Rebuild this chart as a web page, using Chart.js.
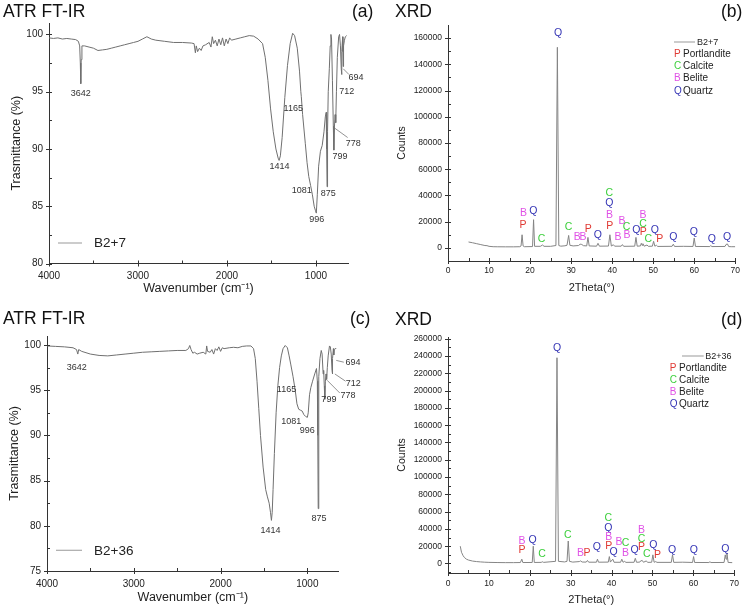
<!DOCTYPE html>
<html>
<head>
<meta charset="utf-8">
<script src="https://cdn.jsdelivr.net/npm/chart.js@4.4.1/dist/chart.umd.min.js"></script>
<style>
  html, body { margin: 0; padding: 0; background: #fff; }
  #fig { position: relative; width: 745px; height: 612px; overflow: hidden; font-family: "Liberation Sans", Arial, sans-serif; }
  #fig canvas { position: absolute; }
  .ttl { position: absolute; font-size: 17.5px; line-height: 1; color: #111; white-space: nowrap; }
</style>
</head>
<body>
<div id="fig">
  <canvas id="cA" width="372" height="306" style="left:0;top:0"></canvas>
  <canvas id="cB" width="373" height="306" style="left:372px;top:0"></canvas>
  <canvas id="cC" width="372" height="306" style="left:0;top:306px"></canvas>
  <canvas id="cD" width="373" height="306" style="left:372px;top:306px"></canvas>
  <div class="ttl" style="left:3px;top:3px">ATR FT-IR</div>
  <div class="ttl" style="left:352px;top:3px">(a)</div>
  <div class="ttl" style="left:395px;top:3px">XRD</div>
  <div class="ttl" style="left:721px;top:3px">(b)</div>
  <div class="ttl" style="left:3px;top:310px">ATR FT-IR</div>
  <div class="ttl" style="left:350px;top:310px">(c)</div>
  <div class="ttl" style="left:395px;top:311px">XRD</div>
  <div class="ttl" style="left:721px;top:311px">(d)</div>
</div>
<script>
// ---- data ----
// IR spectra: [wavenumber, transmittance]
const irB7 = [
  [4000,99.7],[3950,99.65],[3900,99.7],[3850,99.6],[3800,99.65],[3750,99.6],[3700,99.55],[3670,99.4],[3655,99.0],
  [3648,97.5],[3643,95.7],[3638,97.8],[3630,99.0],[3600,99.0],[3550,98.9],[3500,98.8],[3450,98.6],[3400,98.65],
  [3350,98.7],[3300,98.8],[3250,98.9],[3200,99.0],[3150,99.1],[3100,99.2],[3050,99.3],[3000,99.4],[2950,99.6],
  [2900,99.8],[2850,99.6],[2800,99.5],[2700,99.4],[2600,99.3],[2500,99.3],[2400,99.25],[2370,99.2],[2355,98.4],
  [2345,99.0],[2330,98.5],[2310,98.8],[2290,98.6],[2270,99.0],[2240,99.1],[2200,99.3],[2180,98.9],[2165,99.8],
  [2150,99.2],[2130,99.5],[2110,99.0],[2090,99.6],[2070,99.1],[2050,99.7],[2030,99.0],[2010,99.6],[1990,99.2],
  [1970,99.7],[1950,99.5],[1900,99.6],[1850,99.7],[1800,99.8],[1750,99.9],[1700,99.85],[1650,99.6],[1600,99.2],
  [1570,98.0],[1540,96.0],[1510,93.5],[1480,91.5],[1450,90.0],[1425,89.2],[1414,89.0],[1400,89.4],[1380,91.0],
  [1350,94.5],[1320,97.3],[1290,99.2],[1262,100.1],[1240,99.9],[1210,98.8],[1185,96.8],[1170,95.0],[1165,94.6],
  [1150,93.0],[1120,90.5],[1100,88.8],[1081,87.6],[1060,86.8],[1040,86.0],[1020,85.0],[1005,84.6],[996,84.4],
  [985,86.0],[970,88.5],[950,89.8],[930,90.3],[910,91.5],[895,92.8],[885,93.2],[880,90.0],[875,86.7],[870,91.5],
  [862,95.0],[850,97.0],[840,99.0],[832,100.0],[825,99.6],[815,96.0],[805,92.0],[799,89.9],[792,92.0],[785,93.0],
  [778,92.3],[770,95.0],[760,98.0],[745,99.8],[735,100.0],[725,99.0],[716,97.0],[712,96.5],[708,98.5],[700,99.8],
  [697,98.5],[694,97.2],[690,99.0],[680,99.5],[670,99.8],[655,99.9]
];
const irB36 = [
  [4000,99.9],[3900,99.85],[3800,99.8],[3700,99.7],[3660,99.5],[3645,99.0],[3635,99.5],[3600,99.3],[3500,99.0],
  [3400,98.85],[3300,98.8],[3200,98.9],[3100,99.0],[3000,99.1],[2900,99.2],[2800,99.25],[2700,99.3],[2600,99.35],
  [2500,99.4],[2400,99.4],[2370,99.6],[2355,99.95],[2340,99.5],[2320,99.1],[2300,99.2],[2270,99.0],[2240,99.1],
  [2200,99.2],[2170,99.0],[2160,99.9],[2150,99.3],[2120,99.2],[2100,99.5],[2080,99.0],[2060,99.6],[2040,99.4],
  [2020,99.8],[2000,99.3],[1980,99.7],[1960,99.6],[1900,99.7],[1850,99.75],[1800,99.7],[1750,99.85],[1700,99.9],
  [1650,99.9],[1620,99.6],[1600,98.5],[1580,96.0],[1560,93.0],[1540,90.0],[1510,86.5],[1480,84.0],[1460,83.2],
  [1440,82.5],[1425,81.5],[1414,80.6],[1405,81.5],[1395,84.0],[1380,88.0],[1360,92.5],[1340,95.5],[1320,97.5],
  [1300,98.8],[1280,99.6],[1255,99.95],[1230,99.7],[1210,98.8],[1190,97.8],[1165,96.5],[1140,95.0],[1120,93.5],
  [1100,92.9],[1081,92.8],[1060,92.7],[1040,92.3],[1020,92.1],[1000,92.0],[990,92.5],[975,94.5],[960,95.3],
  [940,96.0],[915,96.8],[895,97.4],[885,96.0],[880,90.0],[875,81.9],[871,90.0],[866,96.5],[855,98.5],[840,99.4],
  [830,99.0],[818,96.8],[812,97.2],[805,95.5],[799,94.0],[792,96.0],[785,96.8],[778,96.2],[770,97.5],[760,98.8],
  [745,99.9],[735,99.8],[725,99.0],[716,97.2],[712,96.8],[708,98.5],[700,99.6],[697,99.2],[694,98.9],[690,99.5],
  [680,99.6],[670,99.65]
];
// XRD patterns: [2theta, counts]
const xrdB7 = [
  [5,4500],[6,3900],[7,3200],[8,2500],[9,1800],[9.5,1700],[10,1200],[11,900],[12,850],[14,800],[16,800],[17.5,900],
  [17.8,1500],[18.05,10000],[18.3,1500],[18.6,900],[20.6,1000],[20.85,21500],[21.1,1200],[22.5,1200],[23.05,2200],
  [23.4,1200],[25,1200],[26.3,1800],[26.65,153000],[27.0,1800],[27.5,1300],[28.5,1600],[29.0,2000],[29.4,9500],
  [29.7,2000],[30.5,1500],[31.8,1800],[32.2,2800],[32.6,2600],[33,1700],[33.8,1500],[34.1,8000],[34.4,1500],
  [36.2,1300],[36.55,3500],[36.9,1300],[39.1,1400],[39.45,10000],[39.8,1400],[40.3,2400],[40.6,1300],[42.2,1300],
  [42.5,2500],[42.8,1200],[45.5,1300],[45.8,8000],[46.1,1300],[46.9,1500],[47.1,3500],[47.3,2000],[47.5,3200],
  [47.8,1300],[48.5,2200],[48.8,1200],[49.8,1300],[50.1,5000],[50.4,1300],[50.8,2000],[51.1,1100],[54.6,1200],
  [54.9,2800],[55.2,1100],[57.4,1200],[59.7,1100],[60.0,7500],[60.3,1100],[63.8,1000],[64.0,1800],[64.3,1000],
  [67.5,1100],[67.75,2600],[68.1,3000],[68.4,1000],[69,900],[70,900]
];
const xrdB36 = [
  [3,20000],[3.3,13000],[3.7,9000],[4,7000],[4.5,5000],[5,4000],[6,2800],[7,2200],[8,1800],[9,1500],[10,1300],
  [12,1100],[14,1000],[16,1000],[17.7,1100],[18.05,5000],[18.3,1100],[20.6,1200],[20.85,20000],[21.1,1200],
  [22.8,1300],[23.05,2000],[23.4,1300],[26.3,2500],[26.65,238000],[27.0,2500],[28.5,1800],[29.1,2500],[29.4,26000],
  [29.7,2500],[30.5,1600],[32.1,2200],[32.4,3000],[32.8,1700],[33.8,1600],[34.1,3500],[34.4,1500],[36.3,1500],
  [36.55,5000],[36.8,1500],[39.2,1600],[39.45,8000],[39.7,1600],[40.3,5000],[40.6,1400],[42.2,1400],[42.5,5000],
  [42.8,1400],[43.2,2500],[43.5,1300],[45.5,1400],[45.8,6000],[46.1,1400],[46.9,1600],[47.1,3000],[47.5,3500],
  [47.8,1400],[48.5,3000],[48.8,1300],[49.8,1400],[50.1,10000],[50.4,1400],[50.8,2200],[51.1,1300],[54.6,1300],
  [54.9,10000],[55.2,1300],[57.4,1500],[59.8,1200],[60.05,8000],[60.3,1200],[63.8,1100],[64.05,2000],[64.3,1100],
  [67.5,1200],[67.8,10000],[68.0,5000],[68.2,12000],[68.5,1200],[69.5,1000]
];

// tick values
const irXTicks = [4000, 3000, 2000, 1000];
const irXMinor = [3500, 2500, 1500];
const irAYTicks = [80, 85, 90, 95, 100];
const irCYTicks = [75, 80, 85, 90, 95, 100];
const irYMinor = [77.5, 82.5, 87.5, 92.5, 97.5];
const xrdXTicks = [0, 10, 20, 30, 40, 50, 60, 70];
const xrdXMinor = [5, 15, 25, 35, 45, 55, 65];
const xrdBYTicks = [0, 20000, 40000, 60000, 80000, 100000, 120000, 140000, 160000];
const xrdBYMinor = [-10000, 10000, 30000, 50000, 70000, 90000, 110000, 130000, 150000];
const xrdDYTicks = [0, 20000, 40000, 60000, 80000, 100000, 120000, 140000, 160000, 180000, 200000, 220000, 240000, 260000];
const xrdDYMinor = [-10000, 10000, 30000, 50000, 70000, 90000, 110000, 130000, 150000, 170000, 190000, 210000, 230000, 250000];

// IR band labels and where their text sits (data units)
const irBands = ['3642', '1414', '1165', '1081', '996', '875', '799', '778', '712', '694'];
const irLabelsA = [[3643,94.8],[1410,88.5],[1255,93.5],[1161,86.4],[992,83.8],[862,86.1],[730,89.3],[581,90.5],[655,95.05],[550,96.2]];
const irLabelsC = [[3657,97.5],[1425,79.5],[1240,95.05],[1186,91.5],[1001,90.5],[867,80.8],[752,94.0],[533,94.4],[470,95.7],[475,98.1]];
const irLeadersA = [[786,91.8,644,91.0],[693,97.0,629,96.5]];
const irLeadersC = [[772,96.1,627,94.7],[683,96.8,560,96.0],[667,98.3,580,98.1]];

// XRD phases and peak markers [phase, 2theta, counts]
const phases = [['P', 'Portlandite'], ['C', 'Calcite'], ['B', 'Belite'], ['Q', 'Quartz']];
const phaseColor = { P: '#e03a34', C: '#3ccf3c', B: '#e052e6', Q: '#3535b5' };
const marksB7 = [
  ['B',18.4,26400],['P',18.3,17500],['Q',20.8,27700],['C',22.8,6900],['Q',26.8,163500],['C',29.4,15500],
  ['B',31.5,7900],['B',32.9,7900],['P',34.2,14500],['Q',36.5,9400],['C',39.3,41600],['Q',39.3,34000],
  ['B',39.35,25100],['P',39.4,16300],['B',41.4,8100],['B',42.4,20800],['C',43.5,15500],['B',43.6,9400],
  ['Q',45.9,13200],['B',47.5,25100],['C',47.5,18000],['P',47.6,11900],['C',48.8,6900],['Q',50.4,13200],
  ['P',51.6,6600],['Q',54.9,8100],['Q',59.9,12400],['Q',64.3,6900],['Q',68.0,8100]
];
const marksB36 = [
  ['B',18.1,26300],['P',18.1,15500],['Q',20.7,26700],['C',23.0,10800],['Q',26.7,248800],['C',29.3,32900],
  ['B',32.4,12000],['P',34.0,12000],['Q',36.4,18600],['C',39.2,52200],['Q',39.2,41400],['B',39.3,30500],
  ['P',39.3,19700],['Q',40.5,12800],['B',41.8,25100],['C',43.4,23200],['B',43.4,12000],['Q',45.6,15100],
  ['B',47.3,38300],['C',47.3,28200],['P',47.3,18900],['C',48.6,11200],['Q',50.2,20900],['P',51.2,10100],
  ['Q',54.8,15100],['Q',60.1,15100],['Q',67.8,17000]
];

const FONT = '"Liberation Sans", Arial, sans-serif';
Chart.defaults.font.family = FONT;
Chart.defaults.color = '#222';

// draws ticks, peak labels and legends on top of the plot
const figPlugin = {
  id: 'fig',
  afterDraw(chart, args, o) {
    const { ctx, chartArea: a, scales: { x, y } } = chart;
    ctx.save();
    ctx.strokeStyle = '#333';
    ctx.lineWidth = 1;
    const seg = (x1, y1, x2, y2) => { ctx.beginPath(); ctx.moveTo(x1, y1); ctx.lineTo(x2, y2); ctx.stroke(); };
    const bx = a.bottom, lx = a.left;
    o.xMajor.forEach(v => { const p = Math.round(x.getPixelForValue(v)) + 0.5; seg(p, bx - 3, p, bx + 3); });
    o.xMinor.forEach(v => { const p = Math.round(x.getPixelForValue(v)) + 0.5; seg(p, bx - 3, p, bx); });
    o.yMajor.forEach(v => { const p = Math.round(y.getPixelForValue(v)) + 0.5; seg(lx - 3, p, lx + 3, p); });
    o.yMinor.forEach(v => { const p = Math.round(y.getPixelForValue(v)) + 0.5; seg(lx, p, lx + 3, p); });

    ctx.textAlign = 'center';
    ctx.textBaseline = 'middle';
    if (o.bands) {
      ctx.font = '9px ' + FONT;
      ctx.fillStyle = '#333';
      o.bands.forEach((t, i) => ctx.fillText(t, x.getPixelForValue(o.bandPos[i][0]), y.getPixelForValue(o.bandPos[i][1])));
      ctx.strokeStyle = '#777';
      ctx.lineWidth = 0.8;
      o.leaders.forEach(l => seg(x.getPixelForValue(l[0]), y.getPixelForValue(l[1]), x.getPixelForValue(l[2]), y.getPixelForValue(l[3])));
    }
    if (o.marks) {
      ctx.font = '10.5px ' + FONT;
      o.marks.forEach(m => {
        ctx.fillStyle = phaseColor[m[0]];
        ctx.fillText(m[0], x.getPixelForValue(m[1]), y.getPixelForValue(m[2]));
      });
    }
    // legend
    const L = o.legend;
    ctx.strokeStyle = '#aaa';
    ctx.lineWidth = 1.2;
    seg(L.x1, L.y, L.x2, L.y);
    ctx.textAlign = 'left';
    ctx.fillStyle = '#222';
    ctx.font = L.size + 'px ' + FONT;
    ctx.fillText(L.text, L.tx, L.y + 0.5);
    if (L.rows) {
      ctx.font = '10px ' + FONT;
      phases.forEach((p, i) => {
        const yy = L.rows.y0 + i * L.rows.dy;
        ctx.fillStyle = phaseColor[p[0]];
        ctx.fillText(p[0], L.rows.lx, yy);
        ctx.fillStyle = '#222';
        ctx.fillText(p[1], L.rows.nx, yy);
      });
    }
    ctx.restore();
  }
};

function makeChart(id, c) {
  return new Chart(document.getElementById(id), {
    type: 'line',
    data: {
      datasets: [{
        data: c.points.map(p => ({ x: p[0], y: p[1] })),
        borderColor: c.color,
        borderWidth: 1,
        pointRadius: 0,
        tension: 0,
        fill: false
      }]
    },
    options: {
      responsive: false,
      animation: false,
      devicePixelRatio: 1,
      layout: { padding: { left: 0, top: c.top, right: c.right, bottom: 0 } },
      plugins: { legend: { display: false }, tooltip: { enabled: false }, fig: c.fig },
      scales: {
        x: {
          type: 'linear', min: c.xMin, max: c.xMax, reverse: c.reverse,
          afterBuildTicks: s => { s.ticks = c.xTicks.map(v => ({ value: v })); },
          afterFit: s => { s.height = c.xh; },
          grid: { display: false, drawTicks: false },
          border: { display: true, color: '#333', width: 1 },
          ticks: { padding: c.xPad, font: { size: c.tickSize }, color: '#222', maxRotation: 0, autoSkip: false, callback: v => String(v) },
          title: { display: true, text: c.xTitle, font: { size: c.titleSize }, color: '#222', padding: { top: 0, bottom: c.xTitlePad } }
        },
        y: {
          type: 'linear', min: c.yMin, max: c.yMax,
          afterBuildTicks: s => { s.ticks = c.yTicks.map(v => ({ value: v })); },
          afterFit: s => { s.width = c.yw; },
          grid: { display: false, drawTicks: false },
          border: { display: true, color: '#333', width: 1 },
          ticks: { padding: 6, font: { size: c.tickSize }, color: '#222', autoSkip: false, callback: v => String(v) },
          title: { display: true, text: c.yTitle, font: { size: c.yTitleSize }, color: '#222', padding: { top: c.yTitlePad, bottom: 0 } }
        }
      }
    },
    plugins: [figPlugin]
  });
}

makeChart('cA', {
  points: irB7, color: '#707070', top: 23, right: 24, yw: 49, xh: 42.5,
  xMin: 640, xMax: 4000, reverse: true, yMin: 80, yMax: 101,
  xTicks: irXTicks, yTicks: irAYTicks, tickSize: 10, xPad: 7,
  xTitle: 'Wavenumber (cm\u207B\u00B9)', yTitle: 'Trasmittance (%)', titleSize: 12.5, yTitleSize: 12.5,
  xTitlePad: 10, yTitlePad: 9.5,
  fig: {
    xMajor: irXTicks, xMinor: irXMinor, yMajor: irAYTicks, yMinor: irYMinor.slice(1),
    bands: irBands, bandPos: irLabelsA, leaders: irLeadersA,
    legend: { x1: 58, x2: 82, y: 243, tx: 94, text: 'B2+7', size: 13.5 }
  }
});

makeChart('cB', {
  points: xrdB7, color: '#858585', top: 25, right: 7, yw: 76, xh: 45,
  xMin: 0, xMax: 70, reverse: false, yMin: -10000, yMax: 170000,
  xTicks: xrdXTicks, yTicks: xrdBYTicks, tickSize: 8.5, xPad: 5,
  xTitle: '2Theta(\u00B0)', yTitle: 'Counts', titleSize: 11, yTitleSize: 10.5,
  xTitlePad: 11, yTitlePad: 23.7,
  fig: {
    xMajor: xrdXTicks, xMinor: xrdXMinor, yMajor: xrdBYTicks, yMinor: xrdBYMinor,
    marks: marksB7,
    legend: { x1: 302, x2: 323, y: 42, tx: 325, text: 'B2+7', size: 9, rows: { lx: 302, nx: 311, y0: 54.3, dy: 12.2 } }
  }
});

makeChart('cC', {
  points: irB36, color: '#707070', top: 30, right: 33.4, yw: 47, xh: 41,
  xMin: 640, xMax: 4000, reverse: true, yMin: 75, yMax: 101,
  xTicks: irXTicks, yTicks: irCYTicks, tickSize: 10, xPad: 7,
  xTitle: 'Wavenumber (cm\u207B\u00B9)', yTitle: 'Trasmittance (%)', titleSize: 12.5, yTitleSize: 12.5,
  xTitlePad: 7, yTitlePad: 7.5,
  fig: {
    xMajor: irXTicks, xMinor: irXMinor, yMajor: irCYTicks, yMinor: irYMinor,
    bands: irBands, bandPos: irLabelsC, leaders: irLeadersC,
    legend: { x1: 56, x2: 82, y: 244.3, tx: 94, text: 'B2+36', size: 13.5 }
  }
});

makeChart('cD', {
  points: xrdB36, color: '#858585', top: 31, right: 10, yw: 76, xh: 39,
  xMin: 0, xMax: 70, reverse: false, yMin: -11000, yMax: 262000,
  xTicks: xrdXTicks, yTicks: xrdDYTicks, tickSize: 8.5, xPad: 6,
  xTitle: '2Theta(\u00B0)', yTitle: 'Counts', titleSize: 11, yTitleSize: 10.5,
  xTitlePad: 5.4, yTitlePad: 23.7,
  fig: {
    xMajor: xrdXTicks, xMinor: xrdXMinor, yMajor: xrdDYTicks, yMinor: xrdDYMinor,
    marks: marksB36,
    legend: { x1: 310, x2: 331.7, y: 50, tx: 333.3, text: 'B2+36', size: 9, rows: { lx: 297.7, nx: 307, y0: 62.3, dy: 12 } }
  }
});
</script>
</body>
</html>
